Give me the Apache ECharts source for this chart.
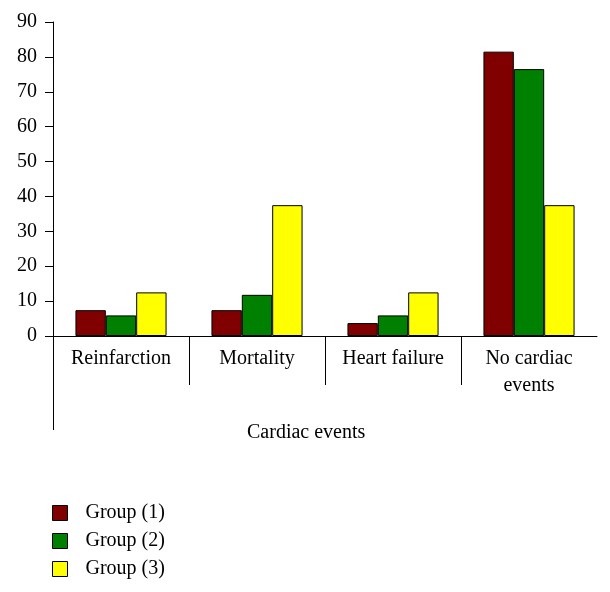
<!DOCTYPE html>
<html><head><meta charset="utf-8">
<script src="https://cdn.jsdelivr.net/npm/echarts@6/dist/echarts.min.js"></script>
<style>html,body{margin:0;padding:0;background:#fff}#c{width:610px;height:592px}</style>
</head><body><div id="c"></div>
<script>
var categories = ['Reinfarction', 'Mortality', 'Heart failure', 'No cardiac\nevents'];
var group1 = [7.4, 7.4, 3.7, 81.5];
var group2 = [5.9, 11.8, 5.9, 76.5];
var group3 = [12.5, 37.5, 12.5, 37.5];
var seriesNames = ['Group (1)', 'Group (2)', 'Group (3)'];
var yTicks = [0, 10, 20, 30, 40, 50, 60, 70, 80, 90];

var FONT = 'Liberation Serif';
var chart = echarts.init(document.getElementById('c'));
var colors = ['#800000', '#008000', '#ffff00'];
function mk(name, data, i) {
  return { name: name, type: 'bar', data: data, barGap: '0%', barCategoryGap: '33%',
    itemStyle: { color: colors[i], borderColor: '#000', borderWidth: 1 } };
}
chart.setOption({
  animation: false,
  textStyle: { fontFamily: FONT },
  title: { text: 'Cardiac events', left: 247, top: 423, padding: 0,
    textStyle: { fontFamily: FONT, fontSize: 20, fontWeight: 'normal', color: '#000' } },
  grid: { left: 53, right: 13, top: 22, bottom: 256, containLabel: false },
  legend: { orient: 'vertical', left: 52, top: 503, padding: 0, itemWidth: 15, itemHeight: 15, itemGap: 8,
    icon: 'rect', data: seriesNames, height: 120,
    itemStyle: { borderColor: '#000', borderWidth: 1 },
    textStyle: { fontFamily: FONT, fontSize: 20, color: '#000', padding: [0, 0, 0, 13] } },
  xAxis: { type: 'category', data: categories,
    axisLine: { lineStyle: { color: '#000', width: 1 } },
    axisTick: { show: false },
    axisLabel: { color: '#000', fontSize: 20, fontFamily: FONT, margin: 9, lineHeight: 27 } },
  yAxis: { type: 'value', min: 0, max: 90, interval: 10,
    splitLine: { show: false },
    axisLine: { show: true, lineStyle: { color: '#000', width: 1 } },
    axisTick: { show: true, length: 8, lineStyle: { color: '#000' } },
    axisLabel: { color: '#000', fontSize: 20, fontFamily: FONT, margin: 16,
      formatter: function (v) { return yTicks.indexOf(v) >= 0 ? String(v) : ''; } } },
  series: [mk(seriesNames[0], group1, 0), mk(seriesNames[1], group2, 1), mk(seriesNames[2], group3, 2)]
});
// category separators and y axis extension below the category axis
var base = chart.convertToPixel({ yAxisIndex: 0 }, 0);
var g = [];
for (var i = 0; i < categories.length - 1; i++) {
  var a = chart.convertToPixel({ xAxisIndex: 0 }, i);
  var b = chart.convertToPixel({ xAxisIndex: 0 }, i + 1);
  var xm = Math.round((a + b) / 2) + 0.5;
  g.push({ type: 'line', shape: { x1: xm, y1: base, x2: xm, y2: base + 49 }, style: { stroke: '#000', lineWidth: 1 } });
}
var x0 = chart.convertToPixel({ xAxisIndex: 0 }, 0) - (chart.convertToPixel({ xAxisIndex: 0 }, 1) - chart.convertToPixel({ xAxisIndex: 0 }, 0)) / 2;
x0 = Math.round(x0) + 0.5;
g.push({ type: 'line', shape: { x1: x0, y1: base, x2: x0, y2: base + 94 }, style: { stroke: '#000', lineWidth: 1 } });
chart.setOption({ graphic: g });
</script></body></html>
